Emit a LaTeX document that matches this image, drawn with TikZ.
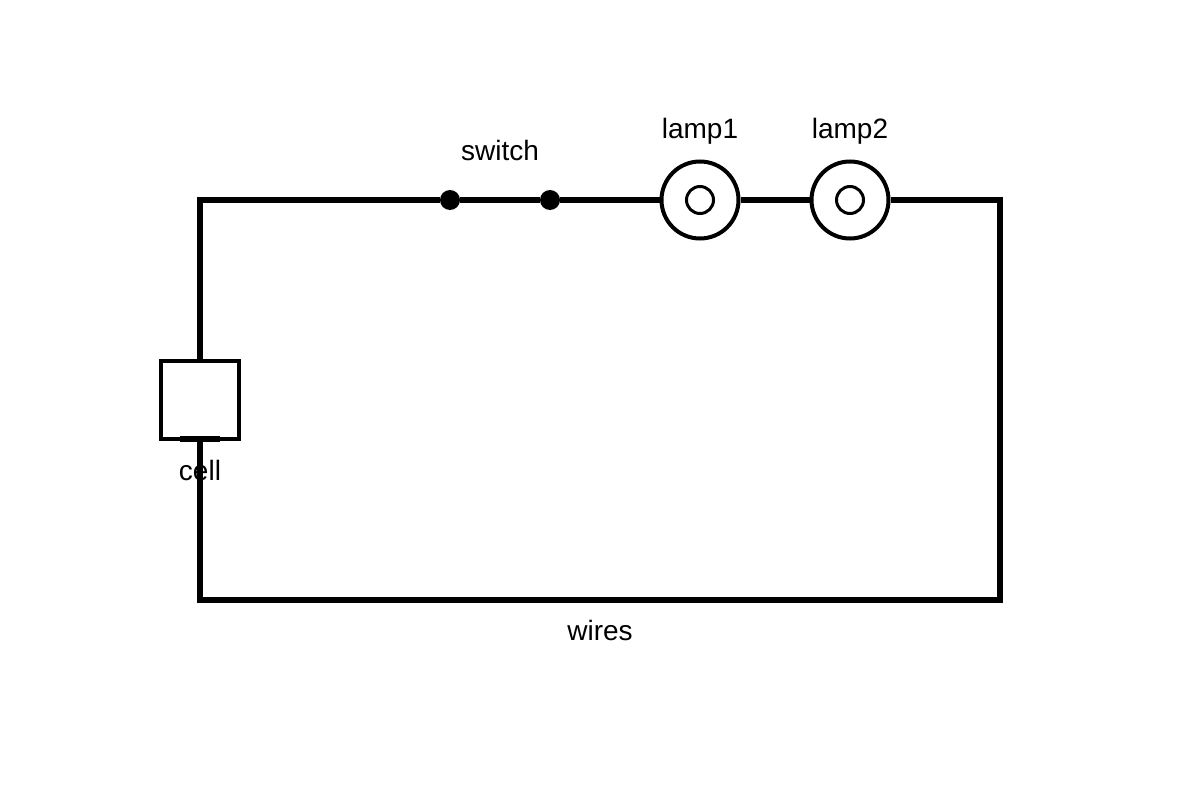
\documentclass[tikz,border=0pt]{standalone}
\usepackage{fontspec}
\setmainfont{Liberation Sans}
\begin{document}
\begin{tikzpicture}[x=1pt,y=-1pt,
  wire/.style={line width=5.5pt},
  lamp/.style={circle,draw,line width=4pt,minimum size=77pt,inner sep=0pt,fill=white},
  filament/.style={circle,draw,line width=3pt,minimum size=27pt,inner sep=0pt},
  dot/.style={circle,fill=black,minimum size=20pt,inner sep=0pt},
  lbl/.style={font=\fontsize{28}{32}\selectfont}]
\useasboundingbox (0,0) rectangle (1200,800);
\node[lbl] (celltext) at (200,470) {cell};
\node[lbl] (wirestext) at (600,630) {wires};
\node[lbl] (switchtext) at (500,150) {switch};
\node[lbl] (l1text) at (700,131) {lamp1};
\node[lbl] (l2text) at (850,131) {lamp2};
\coordinate (tl) at (200,200);
\coordinate (tr) at (1000,200);
\coordinate (br) at (1000,600);
\coordinate (bl) at (200,600);
\node[draw,line width=3.5pt,minimum size=78pt,inner sep=0pt] (cell) at (200,400) {};
\coordinate (ctop) at (200,360);
\coordinate (cbot) at (200,440);
\draw[line width=5.5pt] (180,439) -- (220,439);
\node[dot] (s1) at (450,200) {};
\node[dot] (s2) at (550,200) {};
\node[lamp] (l1) at (700,200) {};
\node[lamp] (l2) at (850,200) {};
\node[filament] (f1) at (l1) {};
\node[filament] (f2) at (l2) {};
\draw[wire] (ctop) -- (tl) -- (s1) -- (s2) -- (l1);
\draw[wire] (l1) -- (l2);
\draw[wire] (l2) -- (tr) -- (br) -- (bl) -- (cbot);
\end{tikzpicture}
\end{document}
